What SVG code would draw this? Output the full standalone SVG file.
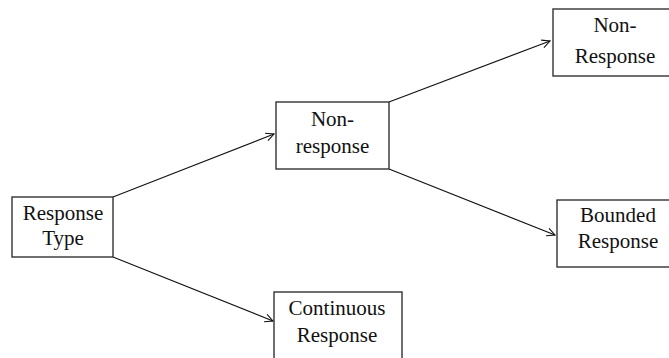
<svg xmlns="http://www.w3.org/2000/svg" width="669" height="358" viewBox="0 0 669 358">
<style>
.box{fill:#fff;stroke:#333;stroke-width:1.4}
.lbl{font-family:"Liberation Serif","Times New Roman",serif;font-size:21px;fill:#111;text-anchor:middle}
.edge{stroke:#111;stroke-width:1.1;fill:none;marker-end:url(#arr)}
</style>
<defs>
<marker id="arr" viewBox="0 0 10 10" refX="9" refY="5" markerWidth="10" markerHeight="10" markerUnits="userSpaceOnUse" orient="auto">
<path d="M1,1 L9,5 L1,9" fill="none" stroke="#111" stroke-width="1.1"/>
</marker>
</defs>
<rect width="669" height="358" fill="#fff"/>
<g id="connectors">
<line class="edge" x1="113" y1="197" x2="274" y2="134"/>
<line class="edge" x1="113" y1="257" x2="273" y2="321"/>
<line class="edge" x1="389" y1="102" x2="550" y2="41"/>
<line class="edge" x1="389" y1="169" x2="555" y2="235"/>
</g>
<g id="response-type">
<rect class="box" x="12" y="197" width="101" height="60"/>
<text class="lbl" x="63" y="220">Response</text>
<text class="lbl" x="63" y="245">Type</text>
</g>
<g id="non-response-mid">
<rect class="box" x="276" y="102" width="113" height="67"/>
<text class="lbl" x="332.5" y="126">Non-</text>
<text class="lbl" x="332.5" y="153">response</text>
</g>
<g id="non-response-top">
<rect class="box" x="553" y="9" width="124" height="67"/>
<text class="lbl" x="615" y="32">Non-</text>
<text class="lbl" x="615" y="63">Response</text>
</g>
<g id="bounded-response">
<rect class="box" x="557" y="200" width="124" height="67"/>
<text class="lbl" x="618" y="222">Bounded</text>
<text class="lbl" x="618" y="248">Response</text>
</g>
<g id="continuous-response">
<rect class="box" x="274" y="292" width="128" height="70"/>
<text class="lbl" x="337" y="315">Continuous</text>
<text class="lbl" x="337" y="342">Response</text>
</g>
</svg>
